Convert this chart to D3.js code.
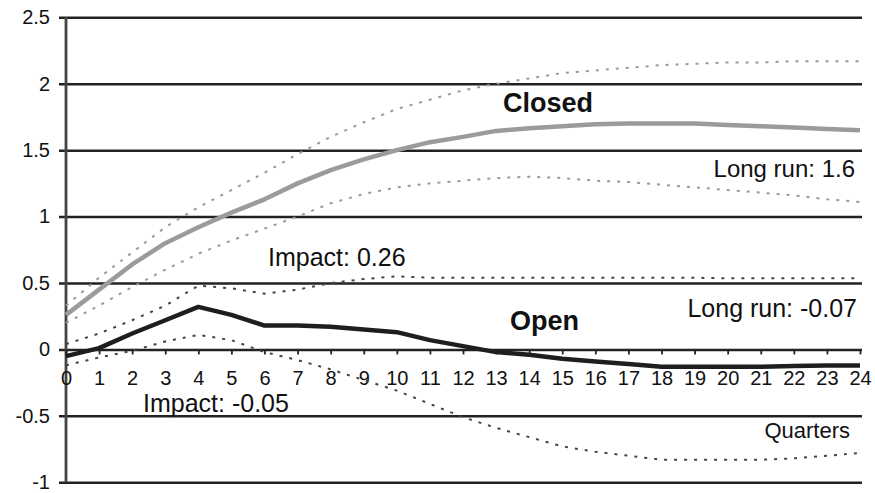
<!DOCTYPE html>
<html>
<head>
<meta charset="utf-8">
<script src="https://cdn.jsdelivr.net/npm/d3@7/dist/d3.min.js"></script>
<style>
  html, body { margin: 0; padding: 0; background: #fff; }
  svg { display: block; font-family: "Liberation Sans", Arial, sans-serif; }
</style>
</head>
<body>
<svg id="chart" width="875" height="493"></svg>
<script>
// Quarters after the shock
const quarters = d3.range(0, 25);
const yTicks = [-1, -0.5, 0, 0.5, 1, 1.5, 2, 2.5];
const yTickLabels = ["-1", "-0.5", "0", "0.5", "1", "1.5", "2", "2.5"];

// Closed economy response with confidence bands
const closed = [0.26, 0.45, 0.64, 0.80, 0.92, 1.03, 1.13, 1.25, 1.35, 1.43, 1.50, 1.56, 1.60,
  1.645, 1.665, 1.68, 1.695, 1.70, 1.70, 1.70, 1.69, 1.68, 1.67, 1.66, 1.65];
const closedUpper = [0.33, 0.54, 0.73, 0.92, 1.07, 1.20, 1.33, 1.47, 1.60, 1.71, 1.81, 1.88, 1.95,
  2.00, 2.04, 2.08, 2.10, 2.12, 2.14, 2.15, 2.16, 2.16, 2.17, 2.17, 2.17];
const closedLower = [0.20, 0.33, 0.47, 0.60, 0.72, 0.82, 0.91, 1.00, 1.10, 1.17, 1.22, 1.25, 1.27,
  1.29, 1.30, 1.29, 1.27, 1.26, 1.24, 1.22, 1.20, 1.18, 1.16, 1.13, 1.11];

// Open economy response with confidence bands
const open = [-0.05, 0.01, 0.12, 0.22, 0.32, 0.26, 0.18, 0.18, 0.17, 0.15, 0.13, 0.07, 0.025,
  -0.02, -0.04, -0.07, -0.09, -0.11, -0.13, -0.13, -0.13, -0.13, -0.125, -0.12, -0.12];
const openUpper = [0.04, 0.12, 0.22, 0.33, 0.48, 0.46, 0.42, 0.45, 0.50, 0.53, 0.55, 0.54, 0.54,
  0.54, 0.54, 0.54, 0.54, 0.54, 0.54, 0.54, 0.535, 0.535, 0.535, 0.535, 0.535];
const openLower = [-0.12, -0.06, -0.01, 0.06, 0.11, 0.07, -0.02, -0.08, -0.15, -0.23, -0.31, -0.41, -0.51,
  -0.59, -0.66, -0.73, -0.77, -0.80, -0.83, -0.83, -0.83, -0.83, -0.82, -0.80, -0.78];

const svg = d3.select("#chart");
const x = d3.scaleLinear().domain([0, 24]).range([66, 860]);
const y = d3.scaleLinear().domain([-1, 2.5]).range([482.3, 17.3]);
const gridRight = 862;

// Horizontal grid lines with left tick stubs
const yAxis = d3.axisLeft(y)
  .tickValues(yTicks)
  .tickFormat((d, i) => yTickLabels[i])
  .tickSize(-(gridRight - x(0)))
  .tickPadding(14);
const gy = svg.append("g").attr("transform", `translate(${x(0)},0)`).call(yAxis);
gy.select(".domain").remove();
gy.selectAll(".tick line")
  .attr("x1", -7)
  .attr("stroke", "#222")
  .attr("stroke-width", 2.5);
gy.selectAll(".tick text")
  .attr("font-size", 20)
  .attr("fill", "#111")
  .attr("x", -16);

// Vertical axis
svg.append("line")
  .attr("x1", x(0)).attr("x2", x(0))
  .attr("y1", y(2.5)).attr("y2", y(-1))
  .attr("stroke", "#444").attr("stroke-width", 2.8);

// Quarter ticks along the zero line
const xAxis = d3.axisBottom(x)
  .tickValues(quarters)
  .tickFormat(d3.format("d"))
  .tickSize(5)
  .tickPadding(16);
const gx = svg.append("g").attr("transform", `translate(0,${y(0)})`).call(xAxis);
gx.select(".domain").remove();
gx.selectAll(".tick line").attr("stroke", "#222").attr("stroke-width", 1.8);
gx.selectAll(".tick text").attr("font-size", 20).attr("fill", "#111");

const line = d3.line().x((d, i) => x(quarters[i])).y(d => y(d));

function drawBand(data, color) {
  svg.append("path").datum(data)
    .attr("d", line)
    .attr("fill", "none")
    .attr("stroke", color)
    .attr("stroke-width", 2)
    .attr("stroke-dasharray", "3,7");
}
drawBand(closedUpper, "#999");
drawBand(closedLower, "#999");
drawBand(openUpper, "#444");
drawBand(openLower, "#444");

svg.append("path").datum(closed)
  .attr("d", line)
  .attr("fill", "none")
  .attr("stroke", "#9b9b9b")
  .attr("stroke-width", 4.5)
  .attr("stroke-linejoin", "round");

svg.append("path").datum(open)
  .attr("d", line)
  .attr("fill", "none")
  .attr("stroke", "#1e1e1e")
  .attr("stroke-width", 4.5)
  .attr("stroke-linejoin", "round");

// Annotations
const notes = [
  { text: "Closed", x: 503, y: 112, size: 27, weight: "bold", anchor: "start" },
  { text: "Open", x: 510, y: 330, size: 27, weight: "bold", anchor: "start" },
  { text: "Long run: 1.6", x: 855, y: 177, size: 24, weight: "normal", anchor: "end" },
  { text: "Impact: 0.26", x: 268, y: 266, size: 25, weight: "normal", anchor: "start" },
  { text: "Long run: -0.07", x: 857, y: 317, size: 25, weight: "normal", anchor: "end" },
  { text: "Impact: -0.05", x: 143, y: 412, size: 25, weight: "normal", anchor: "start" },
  { text: "Quarters", x: 850, y: 438, size: 22, weight: "normal", anchor: "end" }
];
svg.selectAll("text.note").data(notes).join("text")
  .attr("class", "note")
  .attr("x", d => d.x).attr("y", d => d.y)
  .attr("font-size", d => d.size)
  .attr("font-weight", d => d.weight)
  .attr("text-anchor", d => d.anchor)
  .attr("fill", "#111")
  .text(d => d.text);
</script>
</body>
</html>
